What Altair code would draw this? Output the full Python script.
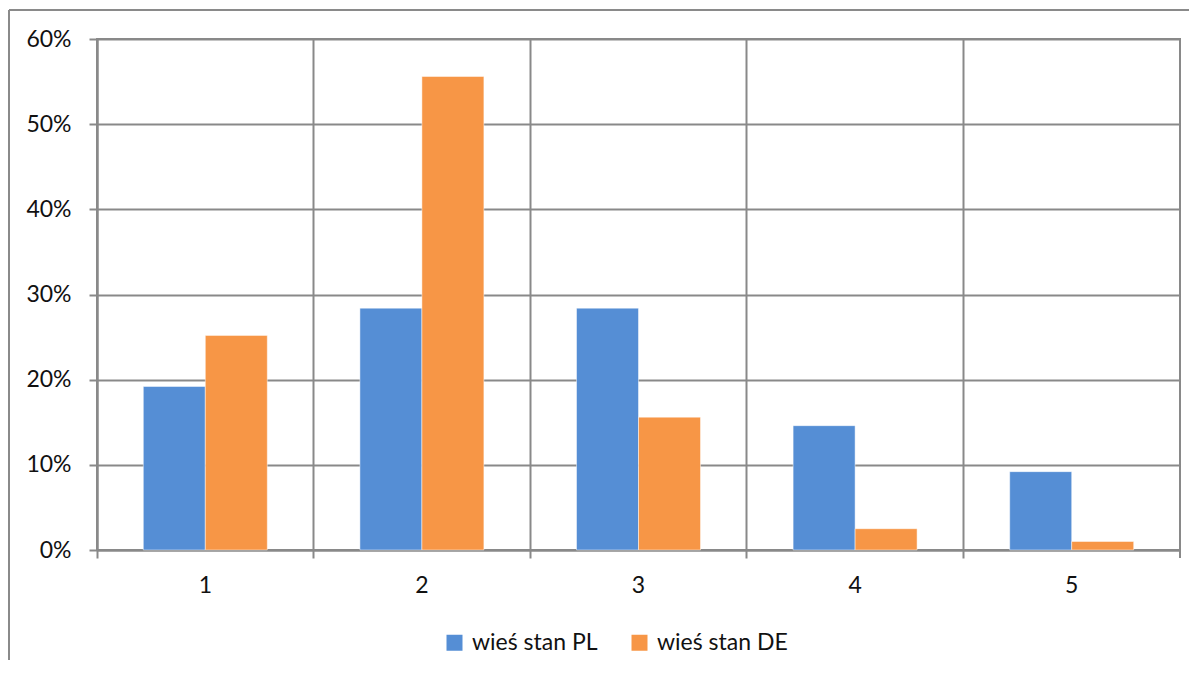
import altair as alt
import pandas as pd

categories = ["1", "2", "3", "4", "5"]
series = ["wieś stan PL", "wieś stan DE"]
pl_values = [0.192, 0.284, 0.284, 0.146, 0.092]
de_values = [0.252, 0.556, 0.156, 0.025, 0.010]
colors = ["#558ED5", "#F79646"]
y_ticks = [0, 0.1, 0.2, 0.3, 0.4, 0.5, 0.6]

rows = []
for c, p, d in zip(categories, pl_values, de_values):
    rows.append({"cat": c, "series": series[0], "value": p})
    rows.append({"cat": c, "series": series[1], "value": d})
df = pd.DataFrame(rows)

FONT = "Lato"
FS = 23
GRID = "#898989"
TXT = "#111111"
W, H = 1083, 511

x_scale = alt.Scale(paddingInner=0, paddingOuter=0)

bars = alt.Chart(df).mark_bar(stroke="white", strokeWidth=0.8, strokeOpacity=0.6).encode(
    x=alt.X("cat:N", sort=categories, scale=x_scale,
            axis=alt.Axis(title=None, orient="bottom", bandPosition=0, grid=True,
                          gridColor=GRID, gridWidth=2, domainColor=GRID, domainWidth=2,
                          tickColor=GRID, tickWidth=2, tickSize=8, labels=False)),
    xOffset=alt.XOffset("series:N", sort=series,
                        scale=alt.Scale(paddingInner=0, paddingOuter=0.747)),
    y=alt.Y("value:Q", scale=alt.Scale(domain=[0, 0.6]),
            axis=alt.Axis(title=None, values=y_ticks, format=".0%", grid=True,
                          gridColor=GRID, gridWidth=2, domainColor=GRID, domainWidth=2,
                          tickColor=GRID, tickWidth=2, tickSize=8,
                          labelFont=FONT, labelFontSize=FS, labelColor=TXT, labelPadding=18)),
    color=alt.Color("series:N", sort=series,
                    scale=alt.Scale(domain=series, range=colors),
                    legend=alt.Legend(title=None, orient="none", legendX=346, legendY=592,
                                      direction="horizontal", symbolType="square",
                                      symbolSize=256, symbolStrokeWidth=0, padding=0,
                                      labelFont=FONT, labelFontSize=FS, labelColor=TXT,
                                      labelOffset=6, columnPadding=30)),
)

labels = alt.Chart(df).mark_bar(opacity=0).encode(
    x=alt.X("cat:N", sort=categories, scale=x_scale,
            axis=alt.Axis(title=None, orient="bottom", grid=False, domain=False, ticks=False,
                          tickSize=0, labelAngle=0, labelFont=FONT, labelFontSize=FS,
                          labelColor=TXT, labelPadding=24)),
    xOffset=alt.XOffset("series:N", sort=series),
    y=alt.Y("value:Q"),
)

right_tick = alt.Chart(df).mark_rule(color=GRID, strokeWidth=2).encode(
    x=alt.value(W), y=alt.value(H), y2=alt.value(H + 8)
)
frame_left = alt.Chart(df).mark_rule(color="#8a8a8a", strokeWidth=2).encode(
    x=alt.value(-88), y=alt.value(-29), y2=alt.value(H + 110)
)
frame_top = alt.Chart(df).mark_rule(color="#8a8a8a", strokeWidth=2).encode(
    x=alt.value(-88), x2=alt.value(W + 40), y=alt.value(-29)
)

chart = alt.layer(frame_left, frame_top, bars, labels, right_tick).resolve_axis(
    x="independent"
).properties(
    width=W, height=H,
    padding={"left": 89, "top": 31, "right": 9, "bottom": 120},
    autosize=alt.AutoSizeParams(type="none"),
).configure_view(stroke=GRID, strokeWidth=2)

chart.save("out.html", embed_options={"renderer": "svg", "actions": False})
